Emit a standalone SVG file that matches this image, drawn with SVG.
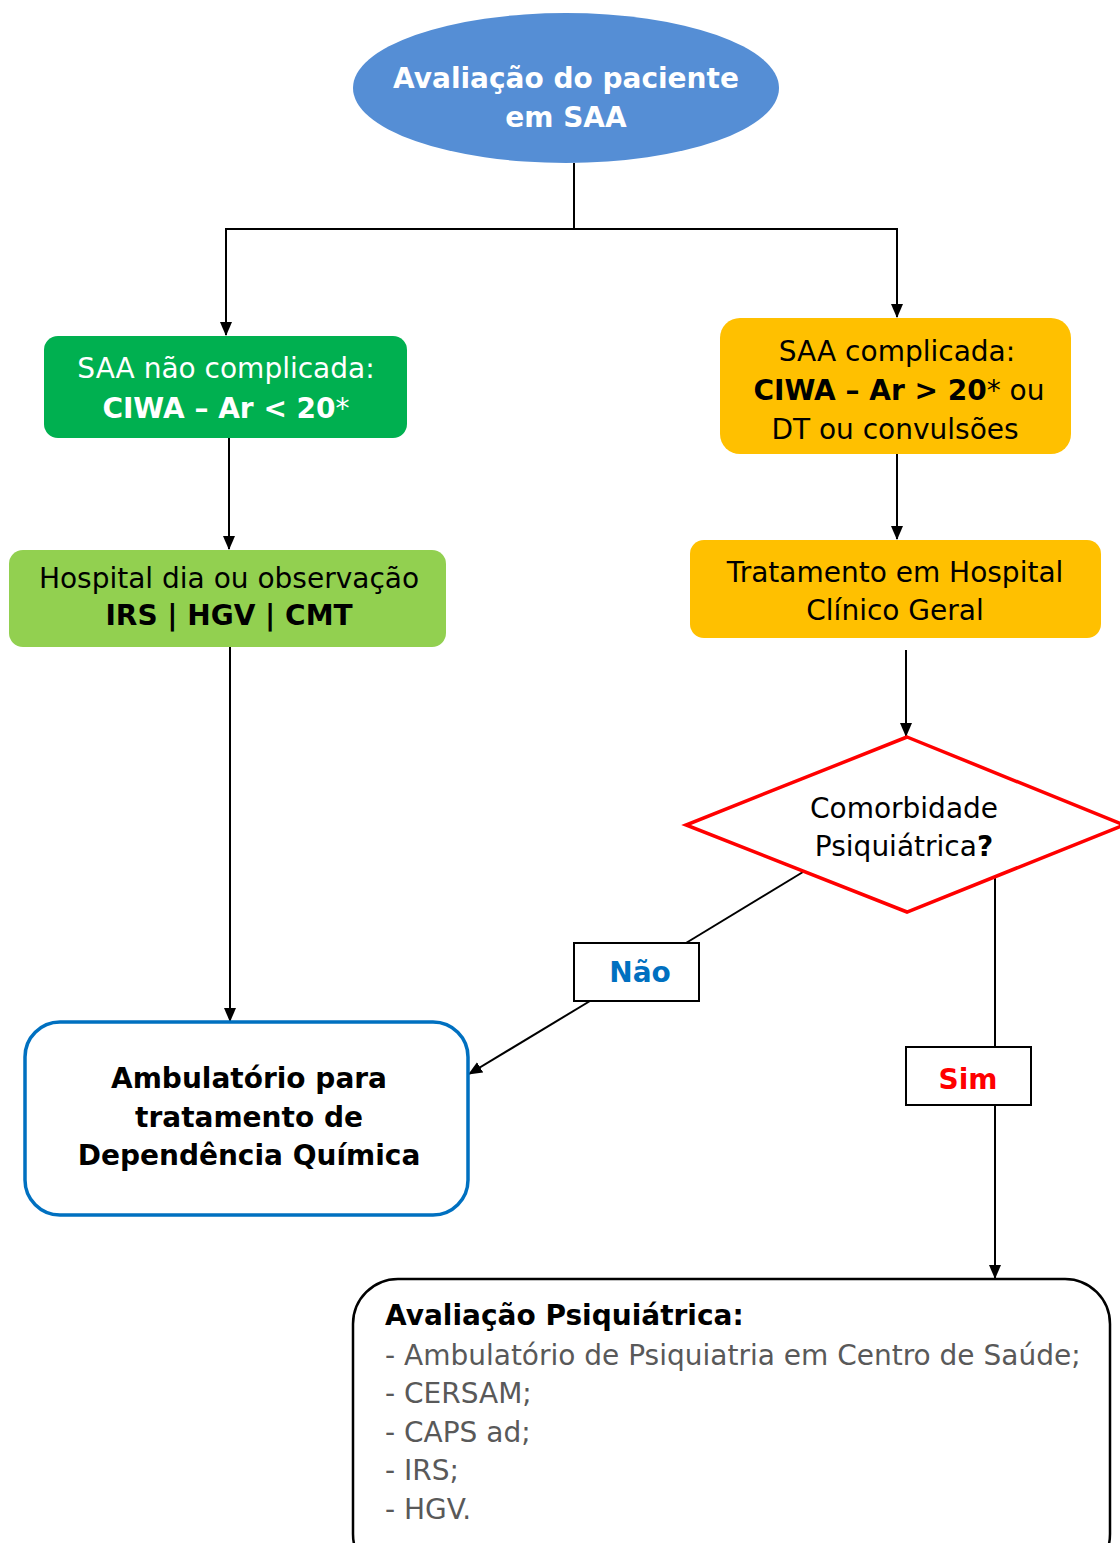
<svg xmlns="http://www.w3.org/2000/svg" width="1120" height="1543" viewBox="0 0 1120 1543">
<defs>
<marker id="ah" markerWidth="14" markerHeight="12" refX="13" refY="6" orient="auto" markerUnits="userSpaceOnUse"><path d="M0,0 L14,6 L0,12 z" fill="#000"/></marker>
<style>
text{font-family:"DejaVu Sans",sans-serif;font-size:28px;text-anchor:middle}
.b{font-weight:bold}
.n{font-weight:normal}
.w{fill:#fff}
.k{fill:#000}
.c{fill:none;stroke:#000;stroke-width:2}
.lab{fill:#fff;stroke:#000;stroke-width:2}
.l{text-anchor:start}
.g{fill:#595959}
</style>
</defs>
<g id="connectors">
<path class="c" d="M574,163 V229 M225,229 H898"/>
<path class="c" d="M226,229 V335" marker-end="url(#ah)"/>
<path class="c" d="M897,229 V317" marker-end="url(#ah)"/>
<path class="c" d="M229,438 V549" marker-end="url(#ah)"/>
<path class="c" d="M897,454 V539" marker-end="url(#ah)"/>
<path class="c" d="M906,650 V736" marker-end="url(#ah)"/>
<path class="c" d="M230,647 V1021" marker-end="url(#ah)"/>
<path class="c" d="M803,872 L686,943"/>
<path class="c" d="M590,1001 L469,1074" marker-end="url(#ah)"/>
<path class="c" d="M995,878 V1047"/>
<path class="c" d="M995,1105 V1278" marker-end="url(#ah)"/>
</g>
<g id="start">
<ellipse cx="566" cy="88" rx="213" ry="75" fill="#558ED5"/>
<text class="b w" x="566" y="88" font-size="30">Avaliação do paciente</text>
<text class="b w" x="566" y="127" font-size="30">em SAA</text>
</g>
<g id="nao-complicada">
<rect x="44" y="336" width="363" height="102" rx="14" fill="#00B050"/>
<text class="w" x="226" y="378">SAA não complicada:</text>
<text class="w b" x="226" y="418">CIWA – Ar &lt; 20<tspan class="n">*</tspan></text>
</g>
<g id="complicada">
<rect x="720" y="318" width="351" height="136" rx="20" fill="#FFC000"/>
<text class="k" x="897" y="361">SAA complicada:</text>
<text class="k" x="899" y="400"><tspan class="b">CIWA – Ar &gt; 20</tspan>* ou</text>
<text class="k" x="895" y="439">DT ou convulsões</text>
</g>
<g id="hospital-dia">
<rect x="9" y="550" width="437" height="97" rx="14" fill="#92D050"/>
<text class="k" x="229" y="588">Hospital dia ou observação</text>
<text class="k b" x="229" y="625">IRS | HGV | CMT</text>
</g>
<g id="hospital-geral">
<rect x="690" y="540" width="411" height="98" rx="14" fill="#FFC000"/>
<text class="k" x="895" y="582">Tratamento em Hospital</text>
<text class="k" x="895" y="620">Clínico Geral</text>
</g>
<g id="comorbidade">
<polygon points="907,737 1124,825 907,912 686,825" fill="#fff" stroke="#FF0000" stroke-width="3.5"/>
<text class="k" x="904" y="818">Comorbidade</text>
<text class="k" x="904" y="856">Psiquiátrica<tspan class="b">?</tspan></text>
</g>
<g id="nao-label">
<rect class="lab" x="574" y="943" width="125" height="58"/>
<text class="b" x="640" y="982" fill="#0070C0">Não</text>
</g>
<g id="sim-label">
<rect class="lab" x="906" y="1047" width="125" height="58"/>
<text class="b" x="968" y="1089" fill="#FF0000">Sim</text>
</g>
<g id="ambulatorio">
<rect x="25" y="1022" width="443" height="193" rx="35" fill="#fff" stroke="#0070C0" stroke-width="3.5"/>
<text class="k b" x="249" y="1088">Ambulatório para</text>
<text class="k b" x="249" y="1127">tratamento de</text>
<text class="k b" x="249" y="1165">Dependência Química</text>
</g>
<g id="avaliacao-psiq">
<rect x="353" y="1279" width="757" height="300" rx="45" fill="#fff" stroke="#000" stroke-width="2.5"/>
<text class="k b l" x="385" y="1325">Avaliação Psiquiátrica:</text>
<text class="g l" x="385" y="1365">- Ambulatório de Psiquiatria em Centro de Saúde;</text>
<text class="g l" x="385" y="1403">- CERSAM;</text>
<text class="g l" x="385" y="1442">- CAPS ad;</text>
<text class="g l" x="385" y="1480">- IRS;</text>
<text class="g l" x="385" y="1519">- HGV.</text>
</g>
</svg>
